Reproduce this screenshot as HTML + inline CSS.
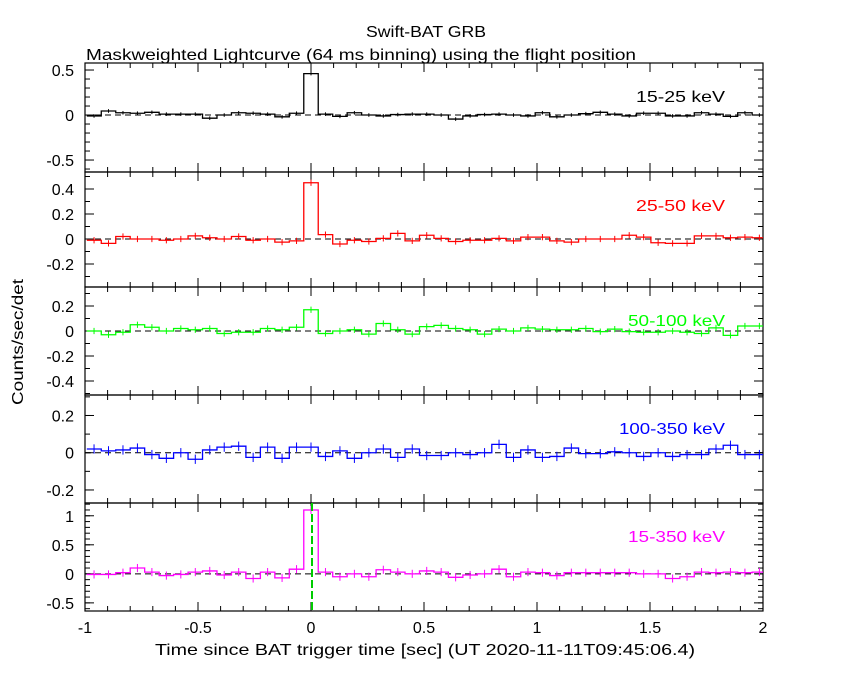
<!DOCTYPE html>
<html><head><meta charset="utf-8">
<style>
html,body{margin:0;padding:0;background:#fff;}
svg{display:block;font-family:"Liberation Sans",sans-serif;}
</style></head>
<body>
<svg id="chart" width="850" height="680" viewBox="0 0 850 680" xmlns="http://www.w3.org/2000/svg">
<text x="366" y="37" font-size="16" textLength="120" lengthAdjust="spacingAndGlyphs">Swift-BAT GRB</text>
<text x="86" y="60" font-size="16" textLength="550" lengthAdjust="spacingAndGlyphs">Maskweighted Lightcurve (64 ms binning) using the flight position</text>
<text transform="translate(23,342) rotate(-90)" text-anchor="middle" font-size="16" textLength="126" lengthAdjust="spacingAndGlyphs">Counts/sec/det</text>
<text x="155" y="655" font-size="16" textLength="540" lengthAdjust="spacingAndGlyphs">Time since BAT trigger time [sec] (UT 2020-11-11T09:45:06.4)</text>
<g id="plots"></g>
</svg>
<script>
const xTickLabels = ["-1","-0.5","0","0.5","1","1.5","2"];
const xTickValues = [-1,-0.5,0,0.5,1,1.5,2];
const binCentersK = [-15,-14,-13,-12,-11,-10,-9,-8,-7,-6,-5,-4,-3,-2,-1,0,1,2,3,4,5,6,7,8,9,10,11,12,13,14,15,16,17,18,19,20,21,22,23,24,25,26,27,28,29,30,31];
const binWidth = 0.064;
const band1 = [-0.01,0.045,0.025,0.02,0.03,0.01,0.01,0.01,-0.035,0,0.025,0.02,0.01,-0.02,0.02,0.46,0.01,-0.015,0.025,0,-0.01,0.005,0.01,0.01,0,-0.045,-0.01,0.005,0.01,0,-0.01,0.025,-0.02,0,0.015,0.03,0.01,-0.01,0.02,0.02,-0.01,-0.01,0.025,0.01,-0.015,0.025,0];
const band2 = [-0.01,-0.035,0.02,0,0,-0.01,0,0.025,0.01,0,0.02,-0.01,0,-0.025,-0.015,0.45,0.035,-0.04,-0.01,-0.02,0.005,0.045,-0.015,0.03,0.005,-0.02,-0.01,-0.01,0.005,-0.015,0.015,0.015,-0.015,-0.025,0,0,0,0.03,0.015,-0.03,-0.035,-0.035,0.025,0.025,0.01,0.015,0.01];
const band3 = [0,-0.03,-0.01,0.05,0.03,0,0.02,0.01,0.02,-0.02,-0.01,-0.01,0.02,0.01,0.03,0.17,-0.02,0,0.01,-0.025,0.06,0.01,-0.025,0.035,0.045,0.02,0.01,-0.025,0.015,0,0.025,0.015,0.01,0.01,0.02,-0.005,0.015,-0.005,-0.01,-0.01,0,-0.01,-0.02,0.025,-0.035,0.04,0.04];
const band4 = [0.02,0.01,0.015,0.025,-0.01,-0.03,0,-0.035,0.015,0.03,0.035,-0.025,0.03,-0.03,0.03,0.03,-0.02,0.01,-0.03,0,0.02,-0.025,0.02,-0.015,-0.015,0,-0.01,0,0.045,-0.025,0.015,-0.025,-0.02,0.025,-0.005,-0.005,0.005,0,-0.02,0,-0.02,-0.01,-0.01,0.02,0.04,-0.01,-0.01];
const band5 = [-0.01,-0.01,0.02,0.1,0.03,-0.03,-0.01,0.03,0.05,-0.02,0.03,-0.08,0.03,-0.07,0.08,1.1,0.03,-0.05,0,-0.05,0.07,0.03,0,0.05,0.03,-0.06,-0.02,0,0.08,-0.05,0.03,0.02,-0.03,0.02,0.02,0.02,0.02,0.02,0,0,-0.08,-0.05,0.03,0.02,0.03,0.02,0.03];
const errs = [0.02,0.025,0.025,0.025,0.07];
const bandNames = ["15-25 keV","25-50 keV","50-100 keV","100-350 keV","15-350 keV"];
const bandLens = [89,89,97,106,97];
const bandColors = ["#000","#f00","#0f0","#00f","#f0f"];
const yTickLabels = [["0.5","0","-0.5"],["0.4","0.2","0","-0.2"],["0.2","0","-0.2","-0.4"],["0.2","0","-0.2"],["1","0.5","0","-0.5"]];
const yTickValues = [[0.5,0,-0.5],[0.4,0.2,0,-0.2],[0.2,0,-0.2,-0.4],[0.2,0,-0.2],[1,0.5,0,-0.5]];
const yMinor = [0.1,0.1,0.1,0.1,0.1];
const series = [band1,band2,band3,band4,band5];
const X0=85, X1=763, XMIN=-1, XMAX=2;
const panels=[{top:63,bot:172,ymax:0.578,ymin:-0.633},{top:172,bot:287,ymax:0.536,ymin:-0.384},{top:287,bot:395,ymax:0.352,ymin:-0.512},{top:395,bot:503,ymax:0.31,ymin:-0.27},{top:503,bot:611,ymax:1.22,ymin:-0.64}];
const xs = v => X0+(v-XMIN)/(XMAX-XMIN)*(X1-X0);
const NS="http://www.w3.org/2000/svg";
const root=document.getElementById('plots');
function mk(tag,attrs,parent){const e=document.createElementNS(NS,tag);for(const k in attrs)e.setAttribute(k,attrs[k]);(parent||root).appendChild(e);return e;}
panels.forEach((p,i)=>{
  const ys=v=>p.top+(p.ymax-v)/(p.ymax-p.ymin)*(p.bot-p.top);
  const g=mk('g',{});
  
  
  const fr=mk('rect',{x:X0,y:p.top,width:X1-X0,height:p.bot-p.top,fill:'none',stroke:'#000','stroke-width':1.2},g);
  
  
  for(let t=-10;t<=20;t++){
    const v=t/10, x=xs(v), L=(t%5===0)?9:5;
    mk('line',{x1:x,x2:x,y1:p.bot,y2:p.bot-L,stroke:'#000'},g);
    mk('line',{x1:x,x2:x,y1:p.top,y2:p.top+L,stroke:'#000'},g);
  }
  for(let v=Math.ceil(p.ymin/yMinor[i]);v*yMinor[i]<=p.ymax;v++){
    const y=ys(v*yMinor[i]);
    mk('line',{x1:X0,x2:X0+5,y1:y,y2:y,stroke:'#000'},g);
    mk('line',{x1:X1,x2:X1-5,y1:y,y2:y,stroke:'#000'},g);
  }
  yTickValues[i].forEach((v,j)=>{
    const y=ys(v);
    mk('line',{x1:X0,x2:X0+9,y1:y,y2:y,stroke:'#000'},g);
    mk('line',{x1:X1,x2:X1-9,y1:y,y2:y,stroke:'#000'},g);
    const tx=mk('text',{x:X0-11,y:y+6,'text-anchor':'end','font-size':16},g);
    tx.textContent=yTickLabels[i][j];
    
    
  });
  mk('line',{x1:X0,x2:X1,y1:ys(0),y2:ys(0),stroke:'#000','stroke-dasharray':'6,4'},g);
  const d=series[i];let path='';
  d.forEach((v,j)=>{
    const c=binCentersK[j]*binWidth;
    const xa=Math.max(xs(c-binWidth/2),X0), xb=Math.min(xs(c+binWidth/2),X1);
    path+=(j===0?'M':'L')+xa+','+ys(v)+'L'+xb+','+ys(v);
  });
  const st=mk('path',{d:path,fill:'none',stroke:bandColors[i],'stroke-width':1.3},g);
  
  
  d.forEach((v,j)=>{
    const x=xs(binCentersK[j]*binWidth);
    const eb=mk('line',{x1:x,x2:x,y1:ys(v+errs[i]),y2:ys(v-errs[i]),stroke:bandColors[i]},g);
    
    
  });
  if(i===4){
    const vl=mk('line',{x1:xs(0)+1,x2:xs(0)+1,y1:p.top,y2:p.bot,stroke:'#0c0','stroke-width':2,'stroke-dasharray':'8,3'},g);
    
    
  }
  const lb=mk('text',{x:725-bandLens[i],y:p.top+39,'font-size':16,fill:bandColors[i],textLength:bandLens[i],lengthAdjust:'spacingAndGlyphs'},g);
  lb.textContent=bandNames[i];
  
  
});
xTickValues.forEach((v,j)=>{
  const t=mk('text',{x:xs(v),y:633,'text-anchor':'middle','font-size':16});
  t.textContent=xTickLabels[j];
  
  
});
</script>
</body></html>
